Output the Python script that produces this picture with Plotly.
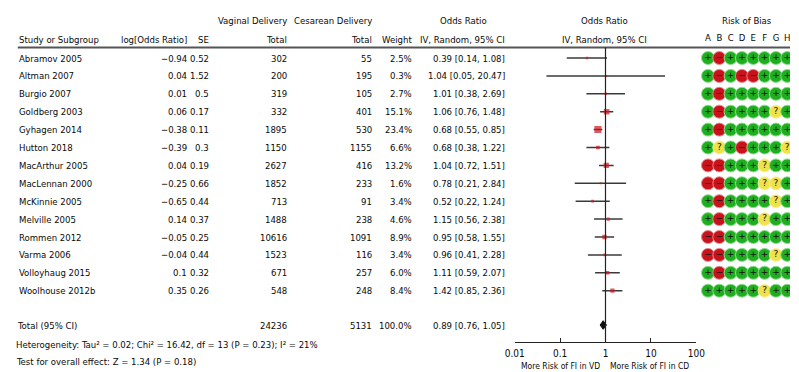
import plotly.graph_objects as go

# ---- study data -------------------------------------------------------------
studies = ["Abramov 2005", "Altman 2007", "Burgio 2007", "Goldberg 2003", "Gyhagen 2014",
           "Hutton 2018", "MacArthur 2005", "MacLennan 2000", "McKinnie 2005", "Melville 2005",
           "Rommen 2012", "Varma 2006", "Volloyhaug 2015", "Woolhouse 2012b"]
log_or = [-0.94, 0.04, 0.01, 0.06, -0.38, -0.39, 0.04, -0.25, -0.65, 0.14, -0.05, -0.04, 0.1, 0.35]
se = [0.52, 1.52, 0.5, 0.17, 0.11, 0.3, 0.19, 0.66, 0.44, 0.37, 0.25, 0.44, 0.32, 0.26]
vd_total = [302, 200, 319, 332, 1895, 1150, 2627, 1852, 713, 1488, 10616, 1523, 671, 548]
cd_total = [55, 195, 105, 401, 530, 1155, 416, 233, 91, 238, 1091, 116, 257, 248]
weight = [2.5, 0.3, 2.7, 15.1, 23.4, 6.6, 13.2, 1.6, 3.4, 4.6, 8.9, 3.4, 6.0, 8.4]
odds = [0.39, 1.04, 1.01, 1.06, 0.68, 0.68, 1.04, 0.78, 0.52, 1.15, 0.95, 0.96, 1.11, 1.42]
ci_lo = [0.14, 0.05, 0.38, 0.76, 0.55, 0.38, 0.72, 0.21, 0.22, 0.56, 0.58, 0.41, 0.59, 0.85]
ci_hi = [1.08, 20.47, 2.69, 1.48, 0.85, 1.22, 1.51, 2.84, 1.24, 2.38, 1.55, 2.28, 2.07, 2.36]

total_vd = 24236
total_cd = 5131
total_weight = 100.0
total_or, total_lo, total_hi = 0.89, 0.76, 1.05
heterogeneity = "Heterogeneity: Tau² = 0.02; Chi² = 16.42, df = 13 (P = 0.23); I² = 21%"
overall_effect = "Test for overall effect: Z = 1.34 (P = 0.18)"

# risk of bias judgements, domains A..H ("+" low, "-" high, "?" unclear)
rob_domains = ["A", "B", "C", "D", "E", "F", "G", "H"]
rob = ["+-++++++", "+-+--+++", "+-++++++", "+-++++?+", "+-++++++", "+?+-+++?", "--+++?++",
       "--+++??+", "+-++++?+", "+-+++?++", "--++++++", "--++++?+", "+-++++++", "+++++?++"]

axis_ticks = [0.01, 0.1, 1, 10, 100]
axis_ticktext = ["0.01", "0.1", "1", "10", "100"]
favours = ["More Risk of FI in VD", "More Risk of FI in CD"]

# ---- layout helpers --------------------------------------------------------
W, H = 799, 372
ROW0, STEP = 58.0, 17.9          # pixel centre of first study row, row pitch


def row_at(py):
    """Row-index coordinate for a pixel height."""
    return (py - ROW0) / STEP


def px(x):
    return x / W


FONT = "DejaVu Sans Condensed, Liberation Sans Narrow, sans-serif"
FS = 9.5
INK = "#0a0a0a"

n = len(studies)
rows = list(range(n))
y_head1, y_head2 = row_at(20), row_at(39)
y_rule = row_at(47.5)
y_total = row_at(325)
y_het, y_test = row_at(344), row_at(361)
y_axis = row_at(342)

fig = go.Figure()

# confidence intervals
ci_x, ci_y = [], []
for i in rows:
    ci_x += [ci_lo[i], ci_hi[i], None]
    ci_y += [i, i, None]
fig.add_trace(go.Scatter(x=ci_x, y=ci_y, mode="lines", line=dict(color="#3a3a3a", width=1.5),
                         hoverinfo="skip", showlegend=False))

# point estimates, square area by weight
fig.add_trace(go.Scatter(x=odds, y=rows, mode="markers",
                         marker=dict(symbol="square", color="#d0141c",
                                     size=[max(2.0, 1.45 * w ** 0.5) for w in weight],
                                     line=dict(width=0)),
                         hoverinfo="skip", showlegend=False))

# pooled diamond
dh = 0.24
fig.add_trace(go.Scatter(x=[total_lo, total_or, total_hi, total_or, total_lo],
                         y=[y_total, y_total - dh, y_total, y_total + dh, y_total],
                         mode="lines", fill="toself", fillcolor="#111111",
                         line=dict(color="#111111", width=1), hoverinfo="skip", showlegend=False))

# risk of bias grid
colors = {"+": "#1fae1f", "-": "#c8121c", "?": "#efe24a"}
halo = {"+": "#8fdc8f", "-": "#e58a8a", "?": "#f7f0a8"}
glyph = {"+": "+", "-": "−", "?": "?"}
gx, gy, gc, gl, gt = [], [], [], [], []
for i, judg in enumerate(rob):
    for k, j in enumerate(judg):
        gx.append(k)
        gy.append(i)
        gc.append(colors[j])
        gl.append(halo[j])
        gt.append(glyph[j])
fig.add_trace(go.Scatter(x=gx, y=gy, xaxis="x2", yaxis="y", mode="markers+text",
                         marker=dict(symbol="circle", size=13, color=gc, line=dict(color=gl, width=1)),
                         text=gt, textposition="middle center",
                         textfont=dict(family="DejaVu Sans", size=9, color="#111111"),
                         hoverinfo="skip", showlegend=False))
fig.add_trace(go.Scatter(x=list(range(len(rob_domains))), y=[y_head2] * len(rob_domains),
                         xaxis="x2", yaxis="y", mode="text", text=rob_domains,
                         textfont=dict(family=FONT, size=FS, color=INK),
                         hoverinfo="skip", showlegend=False))

# ---- table text -------------------------------------------------------------
ann = []


def txt(x, y, s, anchor="right", size=FS):
    ann.append(dict(x=px(x), y=y, xref="paper", yref="y", text=s, showarrow=False,
                    xanchor=anchor, yanchor="middle", borderpad=0,
                    font=dict(family=FONT, size=size, color=INK)))


def fmt(v):
    return f"{v:g}".replace("-", "−")


# headers
txt(285, y_head1, "Vaginal Delivery")
txt(372, y_head1, "Cesarean Delivery")
txt(465, y_head1, "Odds Ratio", "center")
txt(609, y_head1, "Odds Ratio", "center")
txt(755, y_head1, "Risk of Bias", "center")
txt(8, y_head2, "Study or Subgroup", "left")
txt(182, y_head2, "log[Odds Ratio]")
txt(205, y_head2, "SE")
txt(285, y_head2, "Total")
txt(372, y_head2, "Total")
txt(413, y_head2, "Weight")
txt(508, y_head2, "IV, Random, 95% CI")
txt(609, y_head2, "IV, Random, 95% CI", "center")

for i in rows:
    txt(8, i, studies[i], "left")
    txt(182, i, fmt(log_or[i]))
    txt(205, i, fmt(se[i]))
    txt(285, i, str(vd_total[i]))
    txt(372, i, str(cd_total[i]))
    txt(413, i, f"{weight[i]:.1f}%")
    txt(508, i, f"{odds[i]:.2f} [{ci_lo[i]:.2f}, {ci_hi[i]:.2f}]")

txt(6, y_total, "Total (95% CI)", "left")
txt(285, y_total, str(total_vd))
txt(372, y_total, str(total_cd))
txt(413, y_total, f"{total_weight:.1f}%")
txt(508, y_total, f"{total_or:.2f} [{total_lo:.2f}, {total_hi:.2f}]")
txt(5, y_het, heterogeneity, "left")
txt(5, y_test, overall_effect, "left")
txt(564, row_at(365.5), favours[0], "center", 8.5)
txt(655, row_at(365.5), favours[1], "center", 8.5)

shapes = [
    dict(type="line", xref="paper", yref="y", x0=px(8), x1=1, y0=y_rule, y1=y_rule,
         line=dict(color="#555555", width=1.8)),
    dict(type="line", xref="x", yref="y", x0=1, x1=1, y0=y_rule, y1=y_axis,
         line=dict(color="#222222", width=1.2)),
]

fig.update_layout(
    width=W, height=H, margin=dict(l=0, r=0, t=0, b=0),
    paper_bgcolor="white", plot_bgcolor="white",
    showlegend=False, annotations=ann, shapes=shapes,
    xaxis=dict(type="log", range=[-2, 2], domain=[px(517), px(703)], anchor="free",
               position=1 - 342 / H, showline=True, linecolor="#222222", linewidth=1.2,
               ticks="inside", ticklen=4, tickwidth=1.2, tickcolor="#222222",
               ticklabelstandoff=2,
               tickvals=axis_ticks, ticktext=axis_ticktext, showgrid=False, zeroline=False,
               tickfont=dict(family=FONT, size=10, color=INK)),
    xaxis2=dict(range=[-12 / 11.6, -12 / 11.6 + 96 / 11.6], domain=[px(703), 1], anchor="y",
                visible=False),
    yaxis=dict(range=[row_at(H), row_at(0)], domain=[0, 1], visible=False),
)

fig.write_html("out.html")
